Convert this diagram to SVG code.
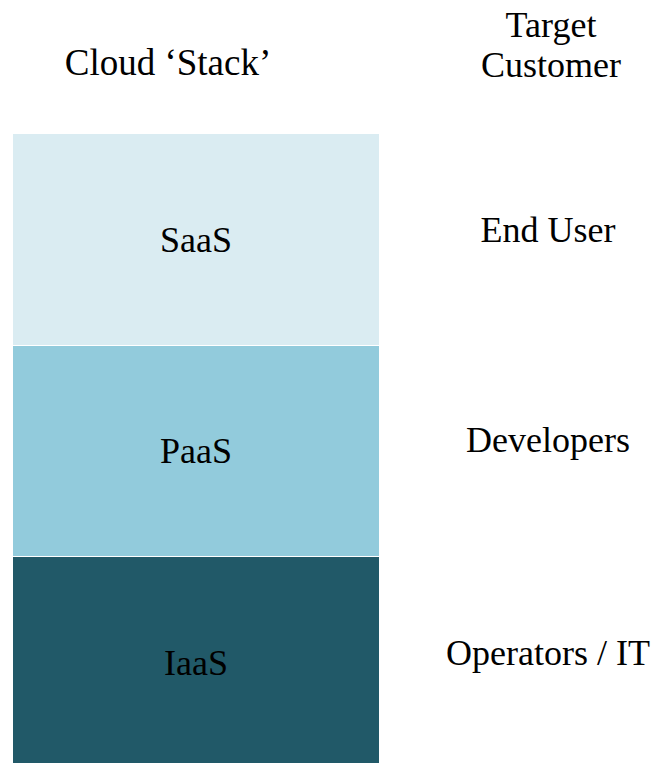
<svg xmlns="http://www.w3.org/2000/svg" width="652" height="763" viewBox="0 0 652 763">
<style>
text{font-family:"Liberation Serif","Times New Roman",serif;font-size:36px;fill:#000;text-anchor:middle}
</style>
<rect width="652" height="763" fill="#fff"/>
<g id="header-stack"><text x="168" y="75" style="font-size:37px">Cloud ‘Stack’</text></g>
<g id="header-customer"><text x="551" y="37">Target</text><text x="551" y="77">Customer</text></g>
<g id="saas"><rect x="13" y="134" width="366" height="211" fill="#DAECF2"/><text x="196" y="252">SaaS</text></g>
<g id="paas"><rect x="13" y="346" width="366" height="210" fill="#92CBDC"/><text x="196" y="463">PaaS</text></g>
<g id="iaas"><rect x="13" y="557" width="366" height="206" fill="#215968"/><text x="196" y="675">IaaS</text></g>
<g id="enduser"><text x="548" y="242">End User</text></g>
<g id="developers"><text x="548" y="452">Developers</text></g>
<g id="operators"><text x="548" y="665">Operators / IT</text></g>
<g id="connectors"/>
</svg>
